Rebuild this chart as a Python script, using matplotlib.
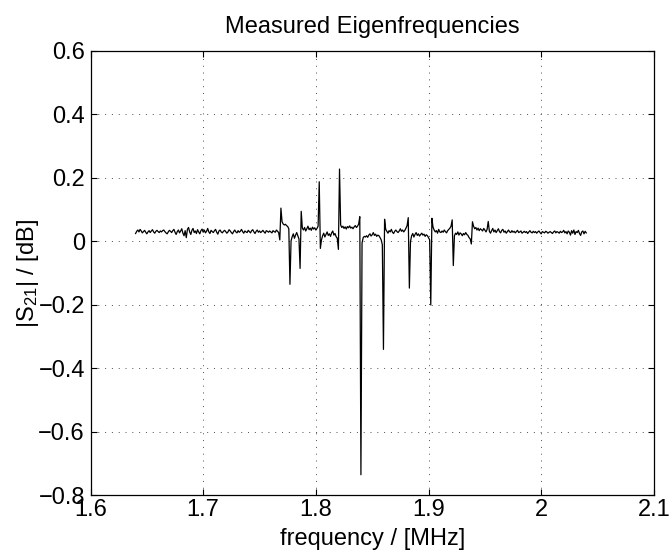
import numpy as np
import matplotlib
matplotlib.use("Agg")
import matplotlib.pyplot as plt

plt.rcParams['font.family'] = ['Liberation Sans', 'DejaVu Sans']
plt.rcParams['mathtext.default'] = 'regular'

# sweep grid (MHz)
freq_start = 1.640
freq_stop = 2.040
n_points = 401

# |S21| in dB, low-frequency baseline (1.640 .. 1.767 MHz)
s21_low = [
    0.025, 0.032, 0.036, 0.030, 0.038, 0.033, 0.027, 0.031, 0.035, 0.029,
    0.024, 0.030, 0.034, 0.028, 0.033, 0.037, 0.030, 0.026, 0.032, 0.035,
    0.031, 0.028, 0.033, 0.030, 0.034, 0.036, 0.031, 0.027, 0.024, 0.030,
    0.035, 0.032, 0.028, 0.034, 0.038, 0.029, 0.022, 0.031, 0.036, 0.027,
    0.033, 0.040, 0.026, 0.018, 0.034, 0.012, 0.038, 0.044, 0.030, 0.022,
    0.035, 0.041, 0.028, 0.033, 0.025, 0.037, 0.030, 0.024, 0.034, 0.039,
    0.029, 0.036, 0.027, 0.032, 0.041, 0.030, 0.025, 0.035, 0.031, 0.028,
    0.034, 0.038, 0.029, 0.023, 0.033, 0.036, 0.030, 0.027, 0.032, 0.035,
    0.031, 0.026, 0.030, 0.037, 0.033, 0.028, 0.024, 0.031, 0.036, 0.030,
    0.027, 0.034, 0.029, 0.032, 0.038, 0.031, 0.026, 0.033, 0.030, 0.028,
    0.035, 0.031, 0.027, 0.034, 0.037, 0.030, 0.025, 0.032, 0.036, 0.029,
    0.033, 0.028, 0.031, 0.035, 0.030, 0.026, 0.034, 0.032, 0.029, 0.033,
    0.030, 0.027, 0.034, 0.031, 0.029, 0.036, 0.032, 0.028,
]

# resonance region (1.768 .. 1.960 MHz)
s21_mid = [
    0.005, 0.105, 0.062, 0.055, 0.052, 0.054, 0.050, 0.047, 0.040, -0.135,
    0.002, 0.015, 0.024, 0.010, 0.020, 0.028, 0.018, 0.008, -0.085, 0.095,
    0.042, 0.036, 0.044, 0.033, 0.040, 0.048, 0.037, 0.042, 0.035, 0.045,
    0.039, 0.043, 0.036, 0.041, 0.048, 0.188, -0.022, 0.005, 0.018, 0.026,
    0.014, 0.022, 0.030, 0.019, 0.024, 0.016, 0.027, 0.033, 0.020, 0.025,
    0.015, 0.010, -0.025, 0.228, 0.052, 0.044, 0.048, 0.041, 0.046, 0.039,
    0.047, 0.043, 0.049, 0.042, 0.045, 0.040, 0.046, 0.050, 0.044, 0.048,
    0.055, 0.078, -0.735, -0.005, 0.012, 0.016, 0.014, 0.018, 0.013, 0.020,
    0.024, 0.017, 0.021, 0.028, 0.019, 0.023, 0.016, 0.020, 0.018, 0.012,
    0.005, -0.010, -0.340, 0.070, 0.038, 0.032, 0.026, 0.034, 0.030, 0.038,
    0.029, 0.025, 0.032, 0.036, 0.031, 0.028, 0.033, 0.040, 0.032, 0.036,
    0.030, 0.035, 0.042, 0.050, 0.075, -0.147, 0.000, 0.018, 0.025, 0.014,
    0.022, 0.028, 0.019, 0.024, 0.017, 0.022, 0.026, 0.020, 0.023, 0.016,
    0.021, 0.018, 0.012, 0.005, -0.200, 0.073, 0.045, 0.036, 0.030, 0.034,
    0.026, 0.038, 0.030, 0.028, 0.033, 0.029, 0.036, 0.031, 0.027, 0.034,
    0.038, 0.042, 0.048, 0.068, -0.076, 0.018, 0.026, 0.022, 0.030, 0.020,
    0.027, 0.024, 0.018, 0.025, 0.021, 0.028, 0.022, 0.019, 0.012, 0.008,
    -0.008, 0.062, 0.048, 0.040, 0.044, 0.036, 0.042, 0.034, 0.040, 0.037,
    0.033, 0.041, 0.036, 0.030, 0.038, 0.063, 0.032, 0.026, 0.034, 0.041,
    0.030, 0.036, 0.028,
]

# high-frequency baseline (1.961 .. 2.040 MHz)
s21_high = [
    0.034, 0.040, 0.031, 0.027, 0.035, 0.038, 0.029, 0.033, 0.026, 0.031,
    0.036, 0.030, 0.028, 0.034, 0.029, 0.032, 0.027, 0.031, 0.035, 0.028,
    0.030, 0.033, 0.026, 0.029, 0.032, 0.028, 0.031, 0.025, 0.030, 0.034,
    0.029, 0.027, 0.032, 0.028, 0.031, 0.026, 0.030, 0.033, 0.028, 0.024,
    0.031, 0.029, 0.027, 0.032, 0.030, 0.026, 0.029, 0.031, 0.028, 0.025,
    0.030, 0.033, 0.027, 0.031, 0.029, 0.026, 0.032, 0.028, 0.030, 0.035,
    0.027, 0.031, 0.024, 0.033, 0.029, 0.020, 0.034, 0.026, 0.036, 0.022,
    0.031, 0.028, 0.035, 0.025, 0.019, 0.030, 0.033, 0.024, 0.032, 0.027,
]

xticks = [1.6, 1.7, 1.8, 1.9, 2.0, 2.1]
xtick_labels = ['1.6', '1.7', '1.8', '1.9', '2', '2.1']
yticks = [-0.8, -0.6, -0.4, -0.2, 0, 0.2, 0.4, 0.6]
ytick_labels = ['\u22120.8', '\u22120.6', '\u22120.4', '\u22120.2', '0', '0.2', '0.4', '0.6']

s21 = np.array(s21_low + s21_mid + s21_high)
freq = np.linspace(freq_start, freq_stop, n_points)

fig = plt.figure(figsize=(6.72, 5.56), dpi=100)
ax = fig.add_axes([0.1347, 0.109, 0.8383, 0.7993])

ax.plot(freq, s21, color='black', lw=0.9)

ax.set_xlim(1.6, 2.1)
ax.set_ylim(-0.8, 0.6)
ax.set_xticks(xticks)
ax.set_xticklabels(xtick_labels)
ax.set_yticks(yticks)
ax.set_yticklabels(ytick_labels)

ax.grid(True, color='0.3', linestyle=(0, (1, 6)), linewidth=0.7)
ax.tick_params(direction='in', length=4, width=0.8, top=True, right=True,
               labelsize=17)
ax.tick_params(axis='x', pad=2.5)
ax.tick_params(axis='y', pad=4)
for sp in ax.spines.values():
    sp.set_linewidth(0.9)

ax.set_title('Measured Eigenfrequencies', fontsize=17, pad=13)
ax.set_xlabel('frequency / [MHz]', fontsize=17, labelpad=5)
ax.set_ylabel('|S$_{21}$| / [dB]', fontsize=17, labelpad=-2)

fig.savefig('out.png', dpi=100)
